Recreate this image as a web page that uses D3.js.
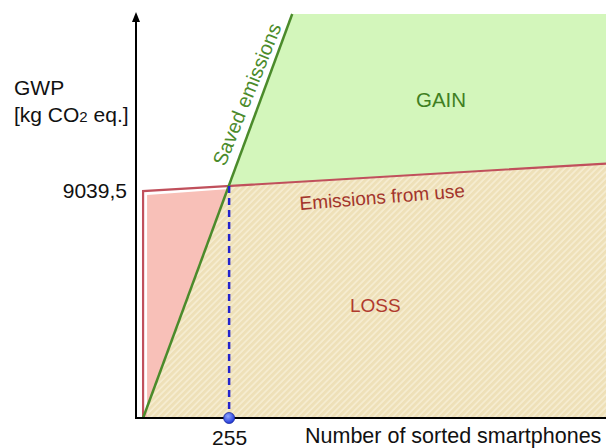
<!DOCTYPE html>
<html>
<head>
<meta charset="utf-8">
<script src="https://cdn.jsdelivr.net/npm/d3@7"></script>
<style>
  body { margin: 0; background: #fff; }
  svg { font-family: "Liberation Sans", Arial, sans-serif; }
</style>
</head>
<body>
<div id="chart"></div>
<script>
// values
const breakEven = [255, 9039.5];               // sorted phones, kg CO2 eq.
const useEmissions = [[0, 8840], [1372, 9915]]; // emissions from use (line)
const savedEmissions = [[0, 0], [442, 15740]];  // saved emissions (line)
const xTicks = [255];
const yTicks = [9039.5];
const xMax = 1372, yTop = 15740;

const width = 606, height = 448;

const x = d3.scaleLinear().domain([-21, 1372]).range([136, 606]);
const y = d3.scaleLinear().domain([0, 15819]).range([418, 12]);

const locale = d3.formatLocale({ decimal: ",", thousands: "", grouping: [3], currency: ["", ""] });
const fmtY = d => locale.format(".1f")(d);

const svg = d3.select("#chart").append("svg")
  .attr("width", width)
  .attr("height", height);

const defs = svg.append("defs");
const hatch = defs.append("pattern")
  .attr("id", "hatch")
  .attr("patternUnits", "userSpaceOnUse")
  .attr("width", 4.5)
  .attr("height", 4.5)
  .attr("patternTransform", "rotate(45)");
hatch.append("rect").attr("width", 4.5).attr("height", 4.5).attr("fill", "#eee0b8");
hatch.append("line").attr("x1", 1).attr("x2", 1).attr("y1", 0).attr("y2", 4.5)
  .attr("stroke", "#f8efd6").attr("stroke-width", 1.4);

const grad = defs.append("radialGradient").attr("id", "dot").attr("cx", "40%").attr("cy", "35%").attr("r", "65%");
grad.append("stop").attr("offset", "0%").attr("stop-color", "#8fa6ff");
grad.append("stop").attr("offset", "100%").attr("stop-color", "#1e36d8");

const useAt = n => useEmissions[0][1] + (useEmissions[1][1] - useEmissions[0][1]) * (n - useEmissions[0][0]) / (useEmissions[1][0] - useEmissions[0][0]);

const poly = d3.line().x(d => x(d[0])).y(d => y(d[1]));

// GAIN area
svg.append("path")
  .attr("d", poly([breakEven, savedEmissions[1], [xMax, yTop], [xMax, useAt(xMax)]]) + "Z")
  .attr("fill", "#d3f6bb");

// LOSS area (hatched)
svg.append("path")
  .attr("d", poly([[0, 0], breakEven, [xMax, useAt(xMax)], [xMax, 0]]) + "Z")
  .attr("fill", "url(#hatch)");

// pink area, inset inside the red border
const pinkTop = useAt(0);
svg.append("path")
  .attr("d", d3.line()([
    [x(0) + 4, y(0)],
    [x(0) + 4, y(pinkTop) + 4],
    [x(breakEven[0]), y(breakEven[1]) + 3],
    [x(0), y(0)]
  ]) + "Z")
  .attr("fill", "#f8c0b8");

// emissions from use line (with left edge)
svg.append("path")
  .attr("d", poly([[0, 0], useEmissions[0], useEmissions[1]]))
  .attr("fill", "none")
  .attr("stroke", "#c0505c")
  .attr("stroke-width", 2.2);

// saved emissions line
svg.append("path")
  .attr("d", poly(savedEmissions))
  .attr("fill", "none")
  .attr("stroke", "#4b8b2b")
  .attr("stroke-width", 2.5);

// break-even dashed line
svg.append("line")
  .attr("x1", x(breakEven[0])).attr("x2", x(breakEven[0]))
  .attr("y1", y(breakEven[1])).attr("y2", y(0))
  .attr("stroke", "#2323cc")
  .attr("stroke-width", 2.5)
  .attr("stroke-dasharray", "7,5");

// axes
const xAxis = svg.append("g")
  .attr("transform", `translate(0,${y(0)})`)
  .call(d3.axisBottom(x).tickValues(xTicks).tickSize(0).tickPadding(8).tickFormat(d3.format("d")));
const yAxis = svg.append("g")
  .attr("transform", `translate(${x.range()[0]},0)`)
  .call(d3.axisLeft(y).tickValues(yTicks).tickSize(0).tickPadding(9).tickFormat(fmtY));

[xAxis, yAxis].forEach(g => {
  g.select(".domain").attr("stroke", "#000").attr("stroke-width", 2);
  g.selectAll("text").attr("fill", "#111").style("font-size", "21px")
    .style("font-family", "'Liberation Sans', Arial, sans-serif");
});
xAxis.selectAll("text").attr("dy", "0.9em");
yAxis.selectAll("text").attr("dy", "0.55em");
yAxis.select(".domain").attr("d", `M0,${y(0) + 1}V${y.range()[1] + 6}`);
xAxis.select(".domain").attr("d", `M${x.range()[0] - 1},0H${x.range()[1]}`);

// arrow head on the y axis
const ax = x.range()[0], ay = y.range()[1];
svg.append("path")
  .attr("d", `M${ax},${ay} L${ax + 4},${ay + 10} L${ax - 4},${ay + 10} Z`)
  .attr("fill", "#000");

// break-even point
svg.append("circle")
  .attr("cx", x(breakEven[0])).attr("cy", y(0))
  .attr("r", 5.5)
  .attr("fill", "url(#dot)")
  .attr("stroke", "#1a2a9a")
  .attr("stroke-width", 0.8);

// labels
svg.append("text").attr("x", 305).attr("y", 443)
  .style("font-size", "21.5px").attr("fill", "#111")
  .text("Number of sorted smartphones");

const yl = svg.append("text").attr("x", 14).style("font-size", "21px").attr("fill", "#111");
yl.append("tspan").attr("x", 14).attr("y", 95).text("GWP");
const t2 = yl.append("tspan").attr("x", 14).attr("y", 122);
t2.append("tspan").text("[kg CO");
t2.append("tspan").style("font-size", "15px").text("2");
t2.append("tspan").text(" eq.]");

svg.append("text").attr("x", 416).attr("y", 107)
  .style("font-size", "20.5px").attr("fill", "#3f7f22").text("GAIN");

svg.append("text").attr("x", 350).attr("y", 312)
  .style("font-size", "19px").attr("fill", "#b03a2e").text("LOSS");

svg.append("text")
  .attr("transform", "translate(300,210) rotate(-4.5)")
  .style("font-size", "19px").attr("fill", "#a3352c").text("Emissions from use");

svg.append("text")
  .attr("transform", "translate(225,167) rotate(-68)")
  .style("font-size", "20px").attr("fill", "#4b8b2b").text("Saved emissions");
</script>
</body>
</html>
